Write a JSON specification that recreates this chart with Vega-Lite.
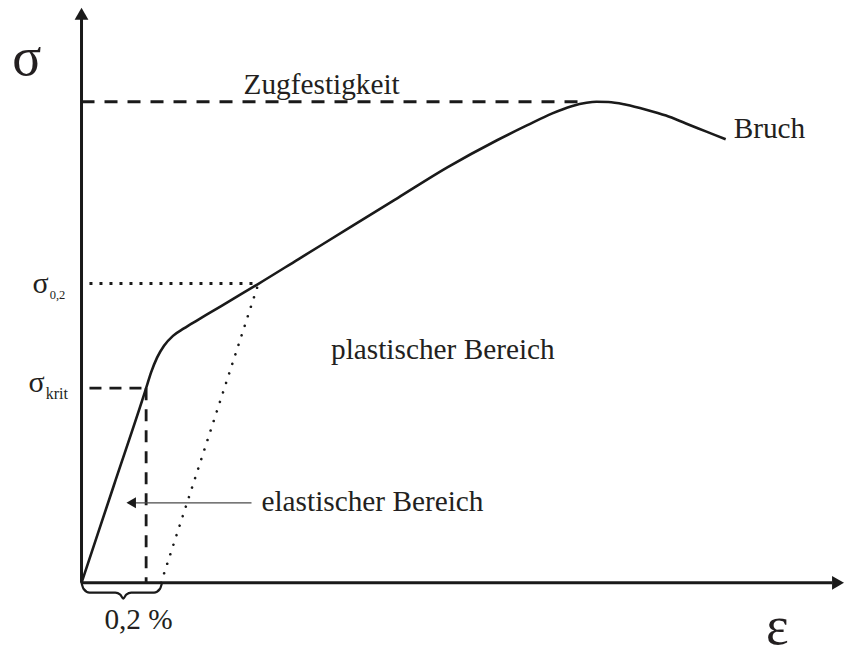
{
  "$schema": "https://vega.github.io/schema/vega-lite/v6.json",
  "width": 844,
  "height": 655,
  "padding": 0,
  "autosize": {"type": "fit", "contains": "padding"},
  "background": "white",
  "config": {"view": {"stroke": null}},
  "encoding": {
    "x": {"field": "x", "type": "quantitative", "scale": {"domain": [-0.82, 7.62], "nice": false, "zero": false}, "axis": null},
    "y": {"field": "y", "type": "quantitative", "scale": {"domain": [-0.65, 5.9], "nice": false, "zero": false}, "axis": null}
  },
  "layer": [
    {
      "data": {"values": [{"x": 0, "y": 0, "o": 1}, {"x": 0, "y": 5.72, "o": 2}]},
      "mark": {"type": "line", "color": "#1a1a1a", "strokeWidth": 3},
      "encoding": {"order": {"field": "o"}}
    },
    {
      "data": {"values": [{"x": 0, "y": 0, "o": 1}, {"x": 7.55, "y": 0, "o": 2}]},
      "mark": {"type": "line", "color": "#1a1a1a", "strokeWidth": 3},
      "encoding": {"order": {"field": "o"}}
    },
    {
      "data": {"values": [{"x": 0, "y": 5.76}]},
      "mark": {"type": "point", "shape": "triangle-up", "filled": true, "size": 190, "color": "#1a1a1a", "opacity": 1}
    },
    {
      "data": {"values": [{"x": 7.61, "y": 0}]},
      "mark": {"type": "point", "shape": "triangle-right", "filled": true, "size": 190, "color": "#1a1a1a", "opacity": 1}
    },
    {
      "data": {"values": [{"x": 0, "y": 4.87, "o": 1}, {"x": 5.05, "y": 4.87, "o": 2}]},
      "mark": {"type": "line", "color": "#1a1a1a", "strokeWidth": 2.8, "strokeDash": [13, 10]},
      "encoding": {"order": {"field": "o"}}
    },
    {
      "data": {"values": [{"x": 0.08, "y": 3.03, "o": 1}, {"x": 1.78, "y": 3.03, "o": 2}]},
      "mark": {"type": "line", "color": "#1a1a1a", "strokeWidth": 2.8, "strokeDash": [3, 7]},
      "encoding": {"order": {"field": "o"}}
    },
    {
      "data": {"values": [{"x": 0.8, "y": 0, "o": 1}, {"x": 1.78, "y": 3.03, "o": 2}]},
      "mark": {"type": "line", "color": "#1a1a1a", "strokeWidth": 2.6, "strokeDash": [0.01, 10], "strokeCap": "round"},
      "encoding": {"order": {"field": "o"}}
    },
    {
      "data": {"values": [{"x": 0.08, "y": 1.97, "o": 1}, {"x": 0.65, "y": 1.97, "o": 2}]},
      "mark": {"type": "line", "color": "#1a1a1a", "strokeWidth": 2.8, "strokeDash": [12, 8]},
      "encoding": {"order": {"field": "o"}}
    },
    {
      "data": {"values": [{"x": 0.65, "y": 1.97, "o": 1}, {"x": 0.65, "y": 0, "o": 2}]},
      "mark": {"type": "line", "color": "#1a1a1a", "strokeWidth": 2.8, "strokeDash": [12, 9]},
      "encoding": {"order": {"field": "o"}}
    },
    {
      "data": {"values": [
        {"x": 0, "y": 0}, {"x": 0.325, "y": 0.985}, {"x": 0.65, "y": 1.97}, {"x": 0.7, "y": 2.13},
        {"x": 0.76, "y": 2.28}, {"x": 0.83, "y": 2.4}, {"x": 0.92, "y": 2.5}, {"x": 1.03, "y": 2.575},
        {"x": 1.16, "y": 2.655}, {"x": 1.28, "y": 2.727}, {"x": 1.53, "y": 2.877}, {"x": 1.78, "y": 3.027},
        {"x": 2.18, "y": 3.275}, {"x": 2.68, "y": 3.585}, {"x": 3.18, "y": 3.895}, {"x": 3.68, "y": 4.205},
        {"x": 4.18, "y": 4.48}, {"x": 4.48, "y": 4.63}, {"x": 4.73, "y": 4.75}, {"x": 4.93, "y": 4.825},
        {"x": 5.08, "y": 4.86}, {"x": 5.18, "y": 4.87}, {"x": 5.3, "y": 4.868}, {"x": 5.48, "y": 4.84},
        {"x": 5.68, "y": 4.79}, {"x": 5.88, "y": 4.73}, {"x": 6.08, "y": 4.65}, {"x": 6.28, "y": 4.57},
        {"x": 6.48, "y": 4.49}
      ]},
      "mark": {"type": "line", "color": "#1a1a1a", "strokeWidth": 2.6, "interpolate": "monotone"}
    },
    {
      "data": {"values": [
        {"x": 0, "y": 0}, {"x": 0.02, "y": -0.06}, {"x": 0.08, "y": -0.1}, {"x": 0.34, "y": -0.1},
        {"x": 0.39, "y": -0.12}, {"x": 0.42, "y": -0.16}, {"x": 0.45, "y": -0.12}, {"x": 0.5, "y": -0.1},
        {"x": 0.73, "y": -0.1}, {"x": 0.79, "y": -0.06}, {"x": 0.81, "y": 0}
      ]},
      "mark": {"type": "line", "color": "#1a1a1a", "strokeWidth": 2.2, "interpolate": "monotone"}
    },
    {
      "data": {"values": [{"x": 0.47, "y": 0.81, "o": 1}, {"x": 1.71, "y": 0.81, "o": 2}]},
      "mark": {"type": "line", "color": "#4a4a4a", "strokeWidth": 1.3},
      "encoding": {"order": {"field": "o"}}
    },
    {
      "data": {"values": [{"x": 0.5, "y": 0.81}]},
      "mark": {"type": "point", "shape": "triangle-left", "filled": true, "size": 120, "color": "#1a1a1a", "opacity": 1}
    },
    {
      "data": {"values": [
        {"x": 1.63, "y": 4.95, "label": "Zugfestigkeit"},
        {"x": 2.51, "y": 2.27, "label": "plastischer Bereich"},
        {"x": 1.81, "y": 0.73, "label": "elastischer Bereich"},
        {"x": 6.56, "y": 4.5, "label": "Bruch"},
        {"x": 0.23, "y": -0.47, "label": "0,2 %"}
      ]},
      "mark": {"type": "text", "align": "left", "baseline": "alphabetic", "font": "Liberation Serif", "fontSize": 29.3, "color": "#231f20"},
      "encoding": {"text": {"field": "label"}}
    },
    {
      "data": {"values": [
        {"x": -0.55, "y": 5.14, "label": "σ"},
        {"x": 7.0, "y": -0.62, "label": "ε"}
      ]},
      "mark": {"type": "text", "align": "center", "baseline": "alphabetic", "font": "Liberation Serif", "fontSize": 54, "color": "#231f20"},
      "encoding": {"text": {"field": "label"}}
    },
    {
      "data": {"values": [
        {"x": -0.33, "y": 2.93, "label": "σ"},
        {"x": -0.37, "y": 1.93, "label": "σ"}
      ]},
      "mark": {"type": "text", "align": "right", "baseline": "alphabetic", "font": "Liberation Serif", "fontSize": 30, "color": "#231f20"},
      "encoding": {"text": {"field": "label"}}
    },
    {
      "data": {"values": [{"x": -0.32, "y": 2.87, "label": "0,2"}]},
      "mark": {"type": "text", "align": "left", "baseline": "alphabetic", "font": "Liberation Serif", "fontSize": 12.5, "color": "#231f20"},
      "encoding": {"text": {"field": "label"}}
    },
    {
      "data": {"values": [{"x": -0.36, "y": 1.86, "label": "krit"}]},
      "mark": {"type": "text", "align": "left", "baseline": "alphabetic", "font": "Liberation Serif", "fontSize": 16, "color": "#231f20"},
      "encoding": {"text": {"field": "label"}}
    }
  ]
}
